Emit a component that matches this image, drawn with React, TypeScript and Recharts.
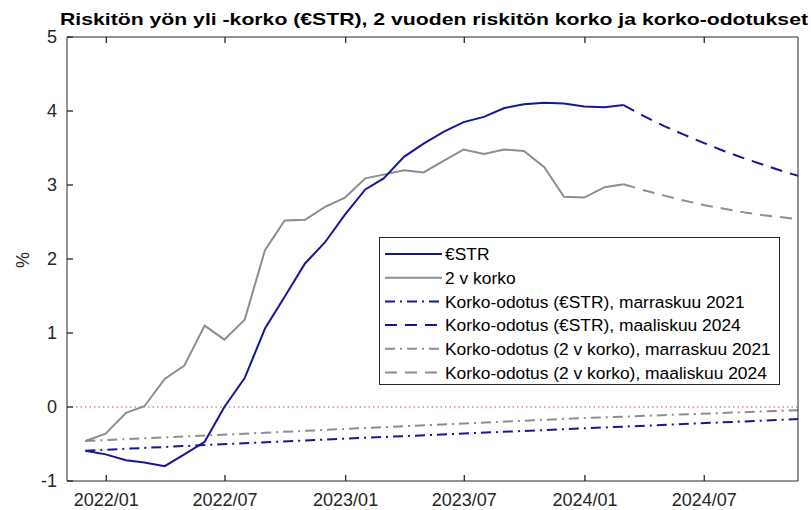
import { LineChart, Line, XAxis, YAxis, ReferenceLine, Legend } from "recharts";

// observed monthly values (month-end), Nov 2021 .. Feb 2024
const obsMonths = [
  "2021-11", "2021-12", "2022-01", "2022-02", "2022-03", "2022-04", "2022-05",
  "2022-06", "2022-07", "2022-08", "2022-09", "2022-10", "2022-11", "2022-12",
  "2023-01", "2023-02", "2023-03", "2023-04", "2023-05", "2023-06", "2023-07",
  "2023-08", "2023-09", "2023-10", "2023-11", "2023-12", "2024-01", "2024-02",
];
const estr = [
  -0.59, -0.64, -0.72, -0.75, -0.8, -0.64, -0.47, 0.0, 0.39, 1.06, 1.49, 1.94,
  2.22, 2.6, 2.94, 3.09, 3.38, 3.56, 3.72, 3.85, 3.92, 4.04, 4.09, 4.11, 4.1,
  4.06, 4.05, 4.08,
];
const twoYear = [
  -0.46, -0.36, -0.08, 0.01, 0.38, 0.56, 1.1, 0.91, 1.18, 2.12, 2.52, 2.53, 2.7,
  2.83, 3.09, 3.14, 3.2, 3.17, 3.33, 3.48, 3.42, 3.48, 3.46, 3.24, 2.84, 2.83,
  2.97, 3.01,
];

// expectations, March 2024
const mar24Months = [
  "2024-02", "2024-03", "2024-04", "2024-05", "2024-06", "2024-07", "2024-08",
  "2024-09", "2024-10", "2024-11",
];
const estrFcMar24 = [4.08, 3.93, 3.8, 3.68, 3.57, 3.46, 3.36, 3.27, 3.18, 3.1];
const twoYearFcMar24 = [3.01, 2.93, 2.86, 2.79, 2.73, 2.68, 2.63, 2.59, 2.56, 2.53];

// expectations, November 2021
const nov21Months = ["2021-11", "2022-11", "2023-11", "2024-11"];
const estrFcNov21 = [-0.59, -0.44, -0.3, -0.16];
const twoYearFcNov21 = [-0.46, -0.31, -0.16, -0.04];

const xTickMonths = ["2022-01", "2022-07", "2023-01", "2023-07", "2024-01", "2024-07"];
const yTicks = [-1, 0, 1, 2, 3, 4, 5];

const BLUE = "#16169a";
const GRAY = "#8e8e8e";
const AXIS = "#262626";
const FONT = '"Liberation Sans", Arial, Helvetica, sans-serif';

const monthEnd = (s: string) => {
  const [y, m] = s.split("-").map(Number);
  return Date.UTC(y, m, 0);
};
const monthStart = (s: string) => {
  const [y, m] = s.split("-").map(Number);
  return Date.UTC(y, m - 1, 1);
};
const toSeries = (months: string[], vals: number[]) =>
  months.map((m, i) => ({ t: monthEnd(m), v: vals[i] }));

const DOMAIN = [Date.UTC(2021, 10, 2), Date.UTC(2024, 10, 21)];
const Y_DOMAIN = [-1, 5];
const xTicks = xTickMonths.map(monthStart);
const fmtDate = (t: number) => {
  const d = new Date(t);
  return `${d.getUTCFullYear()}/${String(d.getUTCMonth() + 1).padStart(2, "0")}`;
};

const DASHDOT = "10 5 2 5";
const DASH = "12 8";

const series = [
  { key: "estr", name: "€STR", data: toSeries(obsMonths, estr), color: BLUE, dash: undefined },
  { key: "two", name: "2 v korko", data: toSeries(obsMonths, twoYear), color: GRAY, dash: undefined },
  { key: "eN", name: "Korko-odotus (€STR), marraskuu 2021", data: toSeries(nov21Months, estrFcNov21), color: BLUE, dash: DASHDOT },
  { key: "eM", name: "Korko-odotus (€STR), maaliskuu 2024", data: toSeries(mar24Months, estrFcMar24), color: BLUE, dash: DASH },
  { key: "tN", name: "Korko-odotus (2 v korko), marraskuu 2021", data: toSeries(nov21Months, twoYearFcNov21), color: GRAY, dash: DASHDOT },
  { key: "tM", name: "Korko-odotus (2 v korko), maaliskuu 2024", data: toSeries(mar24Months, twoYearFcMar24), color: GRAY, dash: DASH },
];

// forecasts underneath, then gray, then blue on top
const drawOrder = ["tN", "eN", "tM", "eM", "two", "estr"];

// MATLAB-style inward ticks
const TL = 6;
const TW = 1.3;
const BottomTick = (p: any) => (
  <g>
    <line x1={p.x} x2={p.x} y1={p.y} y2={p.y - TL} stroke={AXIS} strokeWidth={TW} />
    <text x={p.x} y={p.y + 12} dy="0.71em" textAnchor="middle" fontSize={18} fill={AXIS} fontFamily={FONT}>
      {fmtDate(p.payload.value)}
    </text>
  </g>
);
const TopTick = (p: any) => <line x1={p.x} x2={p.x} y1={p.y} y2={p.y + TL} stroke={AXIS} strokeWidth={TW} />;
const LeftTick = (p: any) => (
  <g>
    <line x1={p.x} x2={p.x + TL} y1={p.y} y2={p.y} stroke={AXIS} strokeWidth={TW} />
    <text x={p.x - 10} y={p.y} dy="0.36em" textAnchor="end" fontSize={18} fill={AXIS} fontFamily={FONT}>
      {p.payload.value}
    </text>
  </g>
);
const RightTick = (p: any) => <line x1={p.x} x2={p.x - TL} y1={p.y} y2={p.y} stroke={AXIS} strokeWidth={TW} />;

function LegendBox() {
  return (
    <svg width={401} height={148} style={{ display: "block" }}>
      <rect x={0.5} y={0.5} width={400} height={147} fill="#fff" stroke={AXIS} />
      {series.map((s, i) => {
        const y = 17 + i * 23.7;
        return (
          <g key={s.key}>
            <line x1={6} x2={63} y1={y} y2={y} stroke={s.color} strokeWidth={2} strokeDasharray={s.dash} />
            <text x={66} y={y} dy="0.36em" fontSize={17.4} fill="#000" fontFamily={FONT}>
              {s.name}
            </text>
          </g>
        );
      })}
    </svg>
  );
}

export default function App() {
  return (
    <div style={{ position: "absolute", left: 0, top: 0, width: 811, height: 510, background: "#fff" }}>
      <LineChart width={811} height={510} margin={{ top: 36, right: 0, bottom: 0, left: 0 }} style={{ fontFamily: FONT }}>
        <XAxis
          xAxisId="b"
          dataKey="t"
          type="number"
          domain={DOMAIN}
          allowDataOverflow
          ticks={xTicks}
          interval={0}
          height={29}
          tickSize={0}
          tickMargin={0}
          tickLine={false}
          stroke={AXIS}
          tick={BottomTick}
        />
        <XAxis
          xAxisId="top"
          orientation="top"
          dataKey="t"
          type="number"
          domain={DOMAIN}
          allowDataOverflow
          ticks={xTicks}
          interval={0}
          height={1}
          tickSize={0}
          tickMargin={0}
          tickLine={false}
          tick={TopTick}
          stroke={AXIS}
        />
        <YAxis
          yAxisId="l"
          type="number"
          domain={Y_DOMAIN}
          ticks={yTicks}
          interval={0}
          width={67}
          tickSize={0}
          tickMargin={0}
          tickLine={false}
          stroke={AXIS}
          tick={LeftTick}
        />
        <YAxis
          yAxisId="r"
          orientation="right"
          type="number"
          domain={Y_DOMAIN}
          ticks={yTicks}
          interval={0}
          width={13}
          tickSize={0}
          tickMargin={0}
          tickLine={false}
          tick={RightTick}
          stroke={AXIS}
        />
        <ReferenceLine xAxisId="b" yAxisId="l" y={0} stroke="#c2506c" strokeWidth={1.2} strokeDasharray="1.5 3" />
        {drawOrder.map((k) => {
          const s = series.find((x) => x.key === k)!;
          return (
            <Line
              key={s.key}
              xAxisId="b"
              yAxisId="l"
              data={s.data}
              dataKey="v"
              name={s.name}
              type="linear"
              stroke={s.color}
              strokeWidth={2}
              strokeDasharray={s.dash}
              dot={false}
              activeDot={false}
              isAnimationActive={false}
            />
          );
        })}
        <Legend
          layout="vertical"
          align="center"
          verticalAlign="middle"
          content={() => <LegendBox />}
          wrapperStyle={{ left: 379, top: 237, width: 401, height: 148 }}
        />
      </LineChart>
      <svg width={811} height={510} style={{ position: "absolute", left: 0, top: 0, pointerEvents: "none" }}>
        <text x={60} y={25} fontSize={17} fontWeight="bold" fontFamily={FONT} fill="#000" textLength={748} lengthAdjust="spacingAndGlyphs">
          Riskitön yön yli -korko (€STR), 2 vuoden riskitön korko ja korko-odotukset
        </text>
        <text x={23} y={260} fontSize={18} fontFamily={FONT} fill={AXIS} textAnchor="middle" dominantBaseline="central" transform="rotate(-90 23 260)">
          %
        </text>
      </svg>
    </div>
  );
}
